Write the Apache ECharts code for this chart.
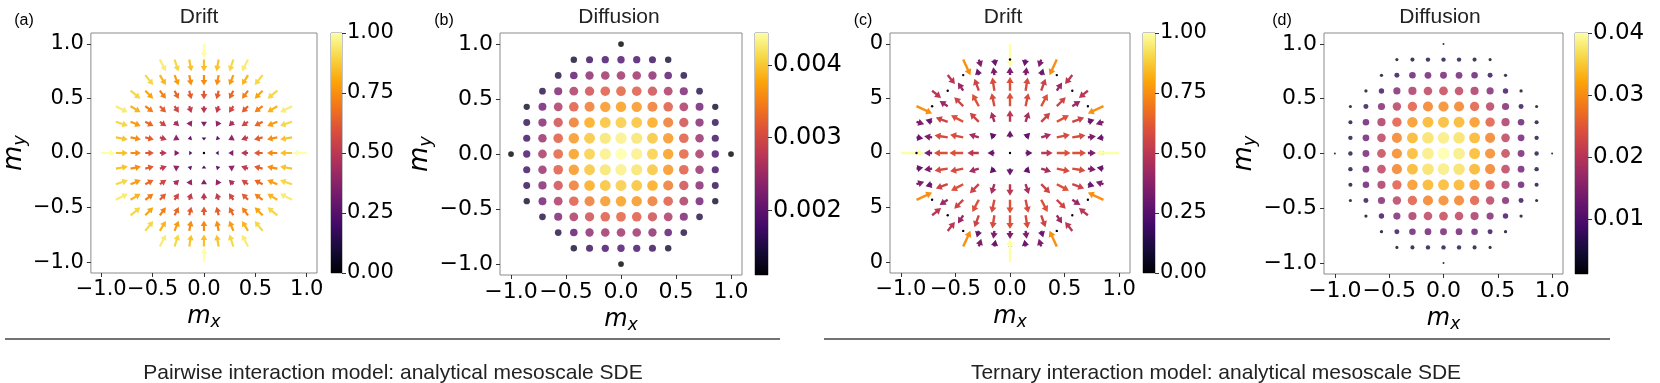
<!DOCTYPE html>
<html>
<head>
<meta charset="utf-8">
<script src="https://cdn.jsdelivr.net/npm/echarts@6/dist/echarts.min.js"></script>
<style>
  html, body { margin: 0; padding: 0; background: #fff; }
  #chart { width: 1660px; height: 383px; }
</style>
</head>
<body>
<div id="chart"></div>
<script>
const _ = null

// lattice coordinates (step 1/7), columns m_x left->right, rows m_y top->bottom
const gridPos = [-1.0, -0.857, -0.714, -0.571, -0.429, -0.286, -0.143, 0.0, 0.143, 0.286, 0.429, 0.571, 0.714, 0.857, 1.0]

const tickValues = [-1, -0.5, 0, 0.5, 1]
const tickLabels = ['\u22121.0', '\u22120.5', '0.0', '0.5', '1.0']
const tickLabelsC = ['0', '5', '0', '5', '0'] // cut off behind panel (b) in the original

const cbarTicksDrift = [0, 0.25, 0.5, 0.75, 1]
const cbarLabelsDrift = ['0.00', '0.25', '0.50', '0.75', '1.00']
const cbarTicksB = [0.002, 0.003, 0.004]
const cbarLabelsB = ['0.002', '0.003', '0.004']
const cbarTicksD = [0.01, 0.02, 0.03, 0.04]
const cbarLabelsD = ['0.01', '0.02', '0.03', '0.04']

// (a) pairwise drift: magnitude and arrow direction (deg)
const pairDriftMag = [
  [_, _, _, _, _, _, _, 1.0, _, _, _, _, _, _, _],
  [_, _, _, _, 0.95, 0.9, 0.86, 0.85, 0.86, 0.9, 0.95, _, _, _, _],
  [_, _, _, 0.9, 0.83, 0.78, 0.75, 0.74, 0.75, 0.78, 0.83, 0.9, _, _, _],
  [_, _, 0.9, 0.8, 0.72, 0.66, 0.63, 0.62, 0.63, 0.66, 0.72, 0.8, 0.9, _, _],
  [_, 0.95, 0.83, 0.72, 0.63, 0.56, 0.52, 0.5, 0.52, 0.56, 0.63, 0.72, 0.83, 0.95, _],
  [_, 0.9, 0.78, 0.66, 0.56, 0.46, 0.4, 0.36, 0.4, 0.46, 0.56, 0.66, 0.78, 0.9, _],
  [_, 0.86, 0.75, 0.63, 0.52, 0.4, 0.28, 0.22, 0.28, 0.4, 0.52, 0.63, 0.75, 0.86, _],
  [1.0, 0.85, 0.74, 0.62, 0.5, 0.36, 0.22, 0, 0.22, 0.36, 0.5, 0.62, 0.74, 0.85, 1.0],
  [_, 0.86, 0.75, 0.63, 0.52, 0.4, 0.28, 0.22, 0.28, 0.4, 0.52, 0.63, 0.75, 0.86, _],
  [_, 0.9, 0.78, 0.66, 0.56, 0.46, 0.4, 0.36, 0.4, 0.46, 0.56, 0.66, 0.78, 0.9, _],
  [_, 0.95, 0.83, 0.72, 0.63, 0.56, 0.52, 0.5, 0.52, 0.56, 0.63, 0.72, 0.83, 0.95, _],
  [_, _, 0.9, 0.8, 0.72, 0.66, 0.63, 0.62, 0.63, 0.66, 0.72, 0.8, 0.9, _, _],
  [_, _, _, 0.9, 0.83, 0.78, 0.75, 0.74, 0.75, 0.78, 0.83, 0.9, _, _, _],
  [_, _, _, _, 0.95, 0.9, 0.86, 0.85, 0.86, 0.9, 0.95, _, _, _, _],
  [_, _, _, _, _, _, _, 1.0, _, _, _, _, _, _, _]
]
const pairDriftAng = [
  [_, _, _, _, _, _, _, 270, _, _, _, _, _, _, _],
  [_, _, _, _, 297, 288, 280, 270, 260, 252, 243, _, _, _, _],
  [_, _, _, 309, 301, 292, 281, 270, 259, 248, 239, 231, _, _, _],
  [_, _, 321, 315, 307, 297, 284, 270, 256, 243, 233, 225, 219, _, _],
  [_, 333, 329, 323, 315, 304, 288, 270, 252, 236, 225, 217, 211, 207, _],
  [_, 342, 338, 333, 326, 315, 297, 270, 243, 225, 214, 207, 202, 198, _],
  [_, 350, 349, 346, 342, 333, 315, 270, 225, 207, 198, 194, 191, 190, _],
  [0, 0, 0, 0, 0, 0, 0, 0, 180, 180, 180, 180, 180, 180, 180],
  [_, 10, 11, 14, 18, 27, 45, 90, 135, 153, 162, 166, 169, 170, _],
  [_, 18, 22, 27, 34, 45, 63, 90, 117, 135, 146, 153, 158, 162, _],
  [_, 27, 31, 37, 45, 56, 72, 90, 108, 124, 135, 143, 149, 153, _],
  [_, _, 39, 45, 53, 63, 76, 90, 104, 117, 127, 135, 141, _, _],
  [_, _, _, 51, 59, 68, 79, 90, 101, 112, 121, 129, _, _, _],
  [_, _, _, _, 63, 72, 80, 90, 100, 108, 117, _, _, _, _],
  [_, _, _, _, _, _, _, 90, _, _, _, _, _, _, _]
]

// (b) pairwise diffusion
const pairDiff = [
  [_, _, _, _, _, _, _, 0.00111, _, _, _, _, _, _, _],
  [_, _, _, _, 0.00138, 0.00168, 0.00178, 0.00184, 0.00178, 0.00168, 0.00138, _, _, _, _],
  [_, _, _, 0.00151, 0.00194, 0.00234, 0.00251, 0.00251, 0.00251, 0.00234, 0.00194, 0.00151, _, _, _],
  [_, _, 0.00151, 0.00221, 0.00261, 0.00294, 0.00311, 0.00317, 0.00311, 0.00294, 0.00261, 0.00221, 0.00151, _, _],
  [_, 0.00134, 0.00211, 0.00261, 0.00311, 0.00337, 0.00361, 0.00367, 0.00361, 0.00337, 0.00311, 0.00261, 0.00211, 0.00134, _],
  [_, 0.00161, 0.00228, 0.00294, 0.00337, 0.00377, 0.00394, 0.00401, 0.00394, 0.00377, 0.00337, 0.00294, 0.00228, 0.00161, _],
  [_, 0.00171, 0.00244, 0.00311, 0.00361, 0.00397, 0.00421, 0.00431, 0.00421, 0.00397, 0.00361, 0.00311, 0.00244, 0.00171, _],
  [0.00111, 0.00178, 0.00258, 0.00317, 0.00367, 0.00404, 0.00431, 0.00444, 0.00431, 0.00404, 0.00367, 0.00317, 0.00258, 0.00178, 0.00111],
  [_, 0.00171, 0.00244, 0.00311, 0.00361, 0.00397, 0.00421, 0.00431, 0.00421, 0.00397, 0.00361, 0.00311, 0.00244, 0.00171, _],
  [_, 0.00161, 0.00228, 0.00294, 0.00337, 0.00377, 0.00394, 0.00401, 0.00394, 0.00377, 0.00337, 0.00294, 0.00228, 0.00161, _],
  [_, 0.00134, 0.00211, 0.00261, 0.00311, 0.00337, 0.00361, 0.00367, 0.00361, 0.00337, 0.00311, 0.00261, 0.00211, 0.00134, _],
  [_, _, 0.00151, 0.00221, 0.00261, 0.00294, 0.00311, 0.00317, 0.00311, 0.00294, 0.00261, 0.00221, 0.00151, _, _],
  [_, _, _, 0.00151, 0.00194, 0.00234, 0.00251, 0.00251, 0.00251, 0.00234, 0.00194, 0.00151, _, _, _],
  [_, _, _, _, 0.00138, 0.00168, 0.00178, 0.00184, 0.00178, 0.00168, 0.00138, _, _, _, _],
  [_, _, _, _, _, _, _, 0.00111, _, _, _, _, _, _, _]
]

// (c) ternary drift: magnitude and arrow direction (deg)
const triDriftMag = [
  [_, _, _, _, _, _, _, 1.0, _, _, _, _, _, _, _],
  [_, _, _, _, 0.75, 0.35, 0.3, 0.02, 0.3, 0.35, 0.75, _, _, _, _],
  [_, _, _, 0.5, 0.02, 0.3, 0.35, 0.35, 0.35, 0.3, 0.02, 0.5, _, _, _],
  [_, _, 0.5, 0.02, 0.42, 0.55, 0.58, 0.6, 0.58, 0.55, 0.42, 0.02, 0.5, _, _],
  [_, 0.75, 0.02, 0.42, 0.55, 0.6, 0.58, 0.6, 0.58, 0.6, 0.55, 0.42, 0.02, 0.75, _],
  [_, 0.35, 0.3, 0.55, 0.6, 0.55, 0.45, 0.5, 0.45, 0.55, 0.6, 0.55, 0.3, 0.35, _],
  [_, 0.3, 0.35, 0.58, 0.58, 0.45, 0.28, 0.3, 0.28, 0.45, 0.58, 0.58, 0.35, 0.3, _],
  [1.0, 0.02, 0.35, 0.6, 0.6, 0.5, 0.3, 0, 0.3, 0.5, 0.6, 0.6, 0.35, 0.02, 1.0],
  [_, 0.3, 0.35, 0.58, 0.58, 0.45, 0.28, 0.3, 0.28, 0.45, 0.58, 0.58, 0.35, 0.3, _],
  [_, 0.35, 0.3, 0.55, 0.6, 0.55, 0.45, 0.5, 0.45, 0.55, 0.6, 0.55, 0.3, 0.35, _],
  [_, 0.75, 0.02, 0.42, 0.55, 0.6, 0.58, 0.6, 0.58, 0.6, 0.55, 0.42, 0.02, 0.75, _],
  [_, _, 0.5, 0.02, 0.42, 0.55, 0.58, 0.6, 0.58, 0.55, 0.42, 0.02, 0.5, _, _],
  [_, _, _, 0.5, 0.02, 0.3, 0.35, 0.35, 0.35, 0.3, 0.02, 0.5, _, _, _],
  [_, _, _, _, 0.75, 0.35, 0.3, 0.02, 0.3, 0.35, 0.75, _, _, _, _],
  [_, _, _, _, _, _, _, 1.0, _, _, _, _, _, _, _]
]
const triDriftAng = [
  [_, _, _, _, _, _, _, 270, _, _, _, _, _, _, _],
  [_, _, _, _, 295, 288, 280, 270, 260, 252, 245, _, _, _, _],
  [_, _, _, 309, 301, 107, 98, 90, 82, 73, 239, 231, _, _, _],
  [_, _, 321, 315, 123, 110, 99, 90, 81, 70, 57, 225, 219, _, _],
  [_, 335, 329, 147, 135, 118, 102, 90, 78, 62, 45, 33, 211, 205, _],
  [_, 342, 163, 160, 152, 135, 108, 90, 72, 45, 28, 20, 17, 198, _],
  [_, 350, 172, 171, 168, 162, 135, 90, 45, 18, 12, 9, 8, 190, _],
  [0, 0, 180, 180, 180, 180, 180, 0, 0, 0, 0, 0, 0, 180, 180],
  [_, 10, 188, 189, 192, 198, 225, 270, 315, 342, 348, 351, 352, 170, _],
  [_, 18, 197, 200, 208, 225, 252, 270, 288, 315, 332, 340, 343, 162, _],
  [_, 25, 31, 213, 225, 242, 258, 270, 282, 298, 315, 327, 149, 155, _],
  [_, _, 39, 45, 237, 250, 261, 270, 279, 290, 303, 135, 141, _, _],
  [_, _, _, 51, 59, 253, 262, 270, 278, 287, 121, 129, _, _, _],
  [_, _, _, _, 65, 72, 80, 90, 100, 108, 115, _, _, _, _],
  [_, _, _, _, _, _, _, 90, _, _, _, _, _, _, _]
]

// (d) ternary diffusion
const triDiff = [
  [_, _, _, _, _, _, _, 0.0011, _, _, _, _, _, _, _],
  [_, _, _, _, 0.0027, 0.0046, 0.0054, 0.0054, 0.0054, 0.0046, 0.0027, _, _, _, _],
  [_, _, _, 0.0030, 0.0069, 0.0120, 0.0128, 0.0132, 0.0128, 0.0120, 0.0069, 0.0030, _, _, _],
  [_, _, 0.0030, 0.0081, 0.0143, 0.0186, 0.0206, 0.0213, 0.0206, 0.0186, 0.0143, 0.0081, 0.0030, _, _],
  [_, 0.0027, 0.0069, 0.0143, 0.0198, 0.0244, 0.0283, 0.0291, 0.0283, 0.0244, 0.0198, 0.0143, 0.0069, 0.0027, _],
  [_, 0.0046, 0.0120, 0.0186, 0.0244, 0.0303, 0.0330, 0.0334, 0.0330, 0.0303, 0.0244, 0.0186, 0.0120, 0.0046, _],
  [_, 0.0054, 0.0128, 0.0206, 0.0283, 0.0330, 0.0369, 0.0381, 0.0369, 0.0330, 0.0283, 0.0206, 0.0128, 0.0054, _],
  [0.0011, 0.0054, 0.0132, 0.0213, 0.0291, 0.0334, 0.0381, 0.0400, 0.0381, 0.0334, 0.0291, 0.0213, 0.0132, 0.0054, 0.0011],
  [_, 0.0054, 0.0128, 0.0206, 0.0283, 0.0330, 0.0369, 0.0381, 0.0369, 0.0330, 0.0283, 0.0206, 0.0128, 0.0054, _],
  [_, 0.0046, 0.0120, 0.0186, 0.0244, 0.0303, 0.0330, 0.0334, 0.0330, 0.0303, 0.0244, 0.0186, 0.0120, 0.0046, _],
  [_, 0.0027, 0.0069, 0.0143, 0.0198, 0.0244, 0.0283, 0.0291, 0.0283, 0.0244, 0.0198, 0.0143, 0.0069, 0.0027, _],
  [_, _, 0.0030, 0.0081, 0.0143, 0.0186, 0.0206, 0.0213, 0.0206, 0.0186, 0.0143, 0.0081, 0.0030, _, _],
  [_, _, _, 0.0030, 0.0069, 0.0120, 0.0128, 0.0132, 0.0128, 0.0120, 0.0069, 0.0030, _, _, _],
  [_, _, _, _, 0.0027, 0.0046, 0.0054, 0.0054, 0.0054, 0.0046, 0.0027, _, _, _, _],
  [_, _, _, _, _, _, _, 0.0011, _, _, _, _, _, _, _]
]

const inferno = ['#000004', '#160b39', '#420a68', '#6a176e', '#932667', '#bc3754',
  '#dd513a', '#f37819', '#fca50a', '#f6d746', '#fcffa4']

const FONT = 'Liberation Sans'
const TICKFONT = 'DejaVu Sans'

// matrix -> [x, y, value(, angle)]
const toPoints = (mat, ang) => {
  const out = []
  mat.forEach((row, r) => row.forEach((v, c) => {
    if (v === null) return
    const p = [gridPos[c], gridPos[gridPos.length - 1 - r], v]
    if (ang) p.push(ang[r][c])
    out.push(p)
  }))
  return out
}
const flat = mat => mat.flat().filter(v => v !== null)

const pick = (ticks, labels) => v => {
  const i = ticks.findIndex(t => Math.abs(t - v) < 1e-9)
  return i < 0 ? '' : labels[i]
}

const nameRich = size => ({
  m: { fontSize: size, fontStyle: 'italic', fontFamily: TICKFONT, color: '#000' },
  s: { fontSize: Math.round(size * 0.7), fontStyle: 'italic', fontFamily: TICKFONT, color: '#000',
    padding: [Math.round(size * 0.45), 0, 0, 0], verticalAlign: 'bottom' }
})

// quiver-like arrow, tail at the lattice point
const arrowRender = (scalePx, head) => (params, api) => {
  const p = api.coord([api.value(0), api.value(1)])
  const L = api.value(2) * scalePx
  const th = api.value(3) * Math.PI / 180
  const color = api.visual('color')
  if (L < 1.5) {
    return { type: 'circle', shape: { cx: p[0], cy: p[1], r: 1.2 }, style: { fill: color } }
  }
  const ux = Math.cos(th), uy = -Math.sin(th)
  const nx = -uy, ny = ux
  let hl = head.len, hw = head.half, sw = head.shaft
  if (L < hl) { const k = L / hl; hl = L; hw *= Math.max(k, 0.7); sw *= k }
  const bx = p[0] + ux * (L - hl), by = p[1] + uy * (L - hl)
  return {
    type: 'polygon',
    shape: { points: [
      [p[0] + nx * sw, p[1] + ny * sw],
      [bx + nx * sw, by + ny * sw],
      [bx + nx * hw, by + ny * hw],
      [p[0] + ux * L, p[1] + uy * L],
      [bx - nx * hw, by - ny * hw],
      [bx - nx * sw, by - ny * sw],
      [p[0] - nx * sw, p[1] - ny * sw]
    ] },
    style: { fill: color }
  }
}

const cbarRender = (lo, hi) => (params, api) => {
  const p0 = api.coord([0, hi]), p1 = api.coord([1, lo])
  return {
    type: 'rect',
    shape: { x: p0[0], y: p0[1], width: p1[0] - p0[0], height: p1[1] - p0[1] },
    style: { fill: new echarts.graphic.LinearGradient(0, 1, 0, 0,
      inferno.map((c, i) => ({ offset: i / (inferno.length - 1), color: c }))) }
  }
}

const panels = [
  { kind: 'quiver', mag: pairDriftMag, ang: pairDriftAng, scale: 14, head: { len: 5.5, half: 3.3, shaft: 1.1 },
    font: 21, cbFont: 21,
    box: { left: 77, top: 33, width: 240, height: 240 }, cb: { left: 331, width: 11 },
    yLabels: tickLabels, yName: true, cbTicks: cbarTicksDrift, cbLabels: cbarLabelsDrift, lo: 0, hi: 1 },
  { kind: 'dots', val: pairDiff, size: 11.5, font: 22, cbFont: 24,
    box: { left: 500, top: 33, width: 242, height: 242 }, cb: { left: 755, width: 13 },
    yLabels: tickLabels, yName: true, cbTicks: cbarTicksB, cbLabels: cbarLabelsB },
  { kind: 'quiver', mag: triDriftMag, ang: triDriftAng, scale: 23, head: { len: 6, half: 3.6, shaft: 1.2 },
    font: 21, cbFont: 21,
    box: { left: 890, top: 33, width: 240, height: 240 }, cb: { left: 1143, width: 12 },
    yLabels: tickLabelsC, yName: false, cbTicks: cbarTicksDrift, cbLabels: cbarLabelsDrift, lo: 0, hi: 1 },
  { kind: 'dots', val: triDiff, size: 12, font: 22, cbFont: 23,
    box: { left: 1324, top: 33, width: 239, height: 241 }, cb: { left: 1575, width: 13 },
    yLabels: tickLabels, yName: true, cbTicks: cbarTicksD, cbLabels: cbarLabelsD }
]

const grid = [], xAxis = [], yAxis = [], series = [], visualMap = []

panels.forEach((pn, k) => {
  const g = 2 * k
  if (pn.kind === 'dots') {
    const vals = flat(pn.val)
    pn.lo = Math.min(...vals)
    pn.hi = Math.max(...vals)
  }
  grid.push({ ...pn.box, show: true, borderColor: '#8a8a8a', borderWidth: 1, backgroundColor: '#fff' })
  grid.push({ left: pn.cb.left, width: pn.cb.width, top: pn.box.top, height: pn.box.height,
    show: true, borderColor: '#8a8a8a', borderWidth: 1 })

  xAxis.push({
    gridIndex: g, type: 'value', min: -1.1, max: 1.1,
    splitLine: { show: false }, axisLine: { show: false, onZero: false },
    axisTick: { show: true, length: 4, customValues: tickValues, lineStyle: { color: '#333' } },
    axisLabel: { customValues: tickValues, formatter: pick(tickValues, tickLabels), hideOverlap: false,
      fontSize: pn.font, fontFamily: TICKFONT, color: '#000', margin: 6 },
    name: '{m|m}{s|x}', nameLocation: 'middle', nameGap: 29,
    nameTextStyle: { rich: nameRich(24) }
  })
  yAxis.push({
    gridIndex: g, type: 'value', min: -1.1, max: 1.1,
    splitLine: { show: false }, axisLine: { show: false, onZero: false },
    axisTick: { show: true, length: 4, customValues: tickValues, lineStyle: { color: '#333' } },
    axisLabel: { customValues: tickValues, formatter: pick(tickValues, pn.yLabels), hideOverlap: false,
      fontSize: pn.font, fontFamily: TICKFONT, color: '#000', margin: 7 },
    name: pn.yName ? '{m|m}{s|y}' : '', nameLocation: 'middle', nameGap: 57, nameRotate: 90,
    nameTextStyle: { rich: nameRich(26) }
  })
  xAxis.push({ gridIndex: g + 1, type: 'value', min: 0, max: 1, show: false })
  yAxis.push({
    gridIndex: g + 1, type: 'value', position: 'right', min: pn.lo, max: pn.hi,
    splitLine: { show: false }, axisLine: { show: false, onZero: false },
    axisTick: { show: true, length: 4, customValues: pn.cbTicks, lineStyle: { color: '#333' } },
    axisLabel: { customValues: pn.cbTicks, formatter: pick(pn.cbTicks, pn.cbLabels), hideOverlap: false,
      fontSize: pn.cbFont, fontFamily: TICKFONT, color: '#000', margin: 5 }
  })

  const si = series.length
  if (pn.kind === 'quiver') {
    series.push({
      type: 'custom', xAxisIndex: g, yAxisIndex: g, clip: false,
      encode: { x: 0, y: 1 }, renderItem: arrowRender(pn.scale, pn.head),
      data: toPoints(pn.mag, pn.ang)
    })
  } else {
    const hi = pn.hi, sz = pn.size
    series.push({
      type: 'scatter', xAxisIndex: g, yAxisIndex: g, symbol: 'circle',
      symbolSize: v => sz * Math.sqrt(v[2] / hi),
      data: toPoints(pn.val)
    })
  }
  visualMap.push({ type: 'continuous', show: false, seriesIndex: si, dimension: 2,
    min: pn.lo, max: pn.hi, inRange: { color: inferno } })
  series.push({
    type: 'custom', xAxisIndex: g + 1, yAxisIndex: g + 1, silent: true,
    renderItem: cbarRender(pn.lo, pn.hi), data: [[0.5, pn.lo]]
  })
})

const txt = (x, y, text, size, extra) => ({
  type: 'text', x, y,
  style: Object.assign({ text, fontSize: size, fontFamily: FONT, fill: '#000',
    align: 'center', verticalAlign: 'middle' }, extra || {})
})

const graphic = [
  txt(24, 21, '(a)', 16), txt(444, 21, '(b)', 16), txt(863, 21, '(c)', 16), txt(1282, 21, '(d)', 16),
  txt(199, 17, 'Drift', 21, { fill: '#222' }), txt(619, 17, 'Diffusion', 21, { fill: '#222' }),
  txt(1003, 17, 'Drift', 21, { fill: '#222' }), txt(1440, 17, 'Diffusion', 21, { fill: '#222' }),
  { type: 'line', shape: { x1: 5, y1: 339, x2: 780, y2: 339 }, style: { stroke: '#444', lineWidth: 1.3 } },
  { type: 'line', shape: { x1: 824, y1: 339, x2: 1610, y2: 339 }, style: { stroke: '#444', lineWidth: 1.3 } },
  txt(393, 373, 'Pairwise interaction model: analytical mesoscale SDE', 21, { fill: '#222' }),
  txt(1216, 373, 'Ternary interaction model: analytical mesoscale SDE', 21, { fill: '#222' })
]

const chart = echarts.init(document.getElementById('chart'))
chart.setOption({
  animation: false,
  backgroundColor: '#fff',
  textStyle: { fontFamily: FONT },
  grid, xAxis, yAxis, visualMap, series, graphic
})
</script>
</body>
</html>
